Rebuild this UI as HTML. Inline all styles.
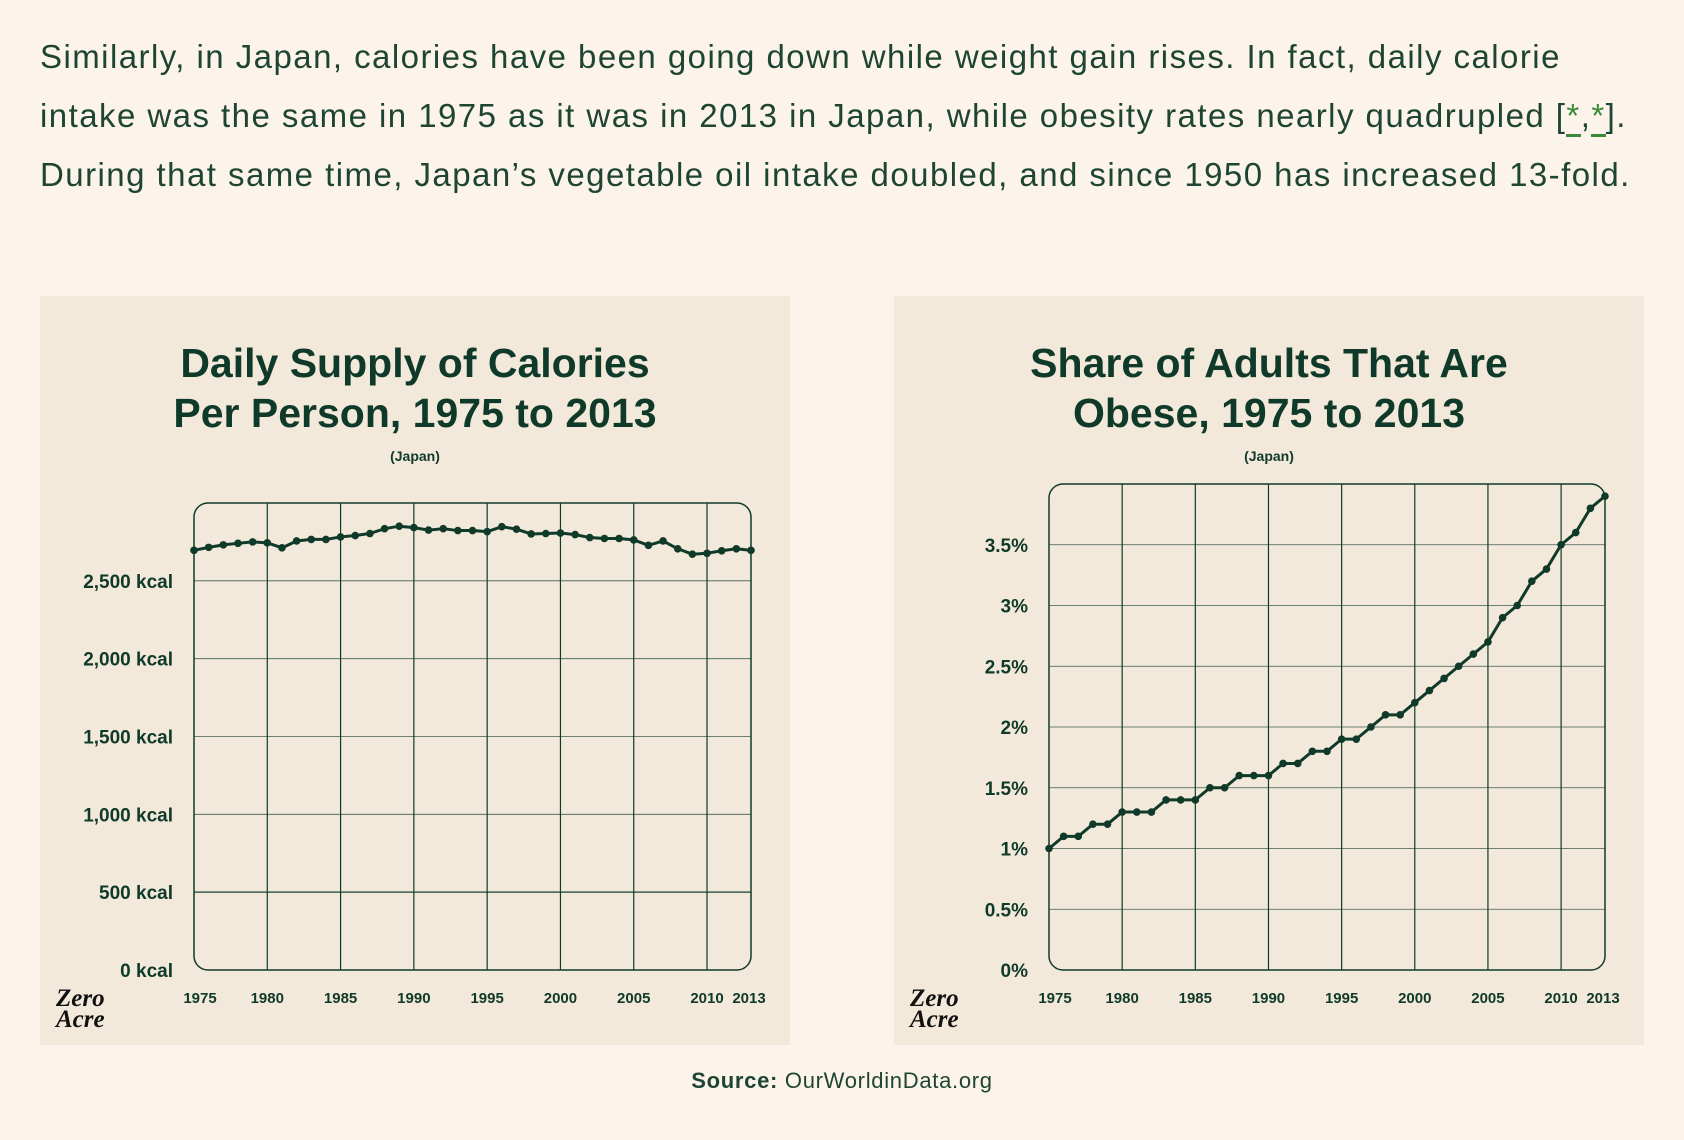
<!DOCTYPE html>
<html><head><meta charset="utf-8">
<style>
html,body{margin:0;padding:0;}
body{width:1684px;height:1140px;background:#fcf4ea;position:relative;overflow:hidden;font-family:"Liberation Sans",sans-serif;color:#1e4434;}
.para{position:absolute;left:40px;top:27px;font-size:33px;letter-spacing:1.45px;line-height:59px;white-space:nowrap;}
.para a{color:#3a8a3a;text-decoration:none;border-bottom:3px solid #3a8a3a;}
.panel{position:absolute;top:296px;width:750px;height:749px;background:#f3e9db;}
svg{position:absolute;left:0;top:0;}
.src{position:absolute;top:1068px;left:0;width:1684px;text-align:center;font-size:22px;color:#1e4434;letter-spacing:0.7px;}
</style></head>
<body>
<div class="para">
<div>Similarly, in Japan, calories have been going down while weight gain rises. In fact, daily calorie</div>
<div>intake was the same in 1975 as it was in 2013 in Japan, while obesity rates nearly quadrupled [<a href="#">*</a>,<a href="#">*</a>].</div>
<div>During that same time, Japan’s vegetable oil intake doubled, and since 1950 has increased 13-fold.</div>
</div>
<div class="panel" style="left:40px"><svg id="c1" width="750" height="749"></svg></div>
<div class="panel" style="left:894px"><svg id="c2" width="750" height="749"></svg></div>
<div class="src"><b>Source:</b> OurWorldinData.org</div>
<script>
const years = [];
for (let y = 1975; y <= 2013; y++) years.push(y);
const calories = [2696,2715,2731,2741,2750,2744,2712,2756,2766,2766,2782,2791,2804,2835,2851,2842,2826,2835,2823,2823,2816,2848,2832,2801,2804,2807,2797,2778,2772,2772,2763,2728,2756,2706,2671,2677,2693,2706,2696];
const obesity = [1.0,1.1,1.1,1.2,1.2,1.3,1.3,1.3,1.4,1.4,1.4,1.5,1.5,1.6,1.6,1.6,1.7,1.7,1.8,1.8,1.9,1.9,2.0,2.1,2.1,2.2,2.3,2.4,2.5,2.6,2.7,2.9,3.0,3.2,3.3,3.5,3.6,3.8,3.9];
const calTicks = [0,500,1000,1500,2000,2500];
const calTickLabels = ["0 kcal","500 kcal","1,000 kcal","1,500 kcal","2,000 kcal","2,500 kcal"];
const obTicks = [0,0.5,1,1.5,2,2.5,3,3.5];
const obTickLabels = ["0%","0.5%","1%","1.5%","2%","2.5%","3%","3.5%"];
const xTicks = [1975,1980,1985,1990,1995,2000,2005,2010,2013];
const xGrid = [1980,1985,1990,1995,2000,2005,2010];
const C = "#0f3a2a";
const NS = "http://www.w3.org/2000/svg";
function mk(parent, tag, attrs, text){
  const e = document.createElementNS(NS, tag);
  for (const k in attrs) e.setAttribute(k, attrs[k]);
  if (text !== undefined) e.textContent = text;
  parent.appendChild(e);
  return e;
}
function chart(id, t1, t2, vals, ymax, ticks, labels, box, prefix){
  const svg = document.getElementById(id);
  const [L,T,R,B] = box;
  const x = v => L + (v-1975)/(2013-1975)*(R-L);
  const y = v => B - v/ymax*(B-T);
  let e;
  e = mk(svg,'text',{x:375,y:81,'text-anchor':'middle','font-size':41,'font-weight':'bold',fill:C},t1);
  
  
  e = mk(svg,'text',{x:375,y:131,'text-anchor':'middle','font-size':41,'font-weight':'bold',fill:C},t2);
  
  
  e = mk(svg,'text',{x:375,y:165,'text-anchor':'middle','font-size':14,'font-weight':'bold',fill:C},'(Japan)');
  
  
  const g = mk(svg,'g',{});
  
  
  ticks.forEach((t,i)=>{
    if (t>0) mk(g,'line',{x1:L,x2:R,y1:y(t),y2:y(t),stroke:C,'stroke-width':t===500&&prefix==='calories'?1.5:0.8,opacity:0.8});
    const lb = mk(svg,'text',{x:L-21,y:y(t)+7,'text-anchor':'end','font-size':19,'font-weight':'bold',fill:C},labels[i]);
    
    
  });
  xGrid.forEach(v=>mk(g,'line',{x1:x(v),x2:x(v),y1:T,y2:B,stroke:C,'stroke-width':1.2}));
  xTicks.forEach(v=>{
    const lb = mk(svg,'text',{x:x(v)+(v===1975?6:(v===2013?-2:0)),y:B+33,'text-anchor':'middle','font-size':15,'font-weight':'bold',fill:C},String(v));
    
    
  });
  e = mk(svg,'rect',{x:L,y:T,width:R-L,height:B-T,rx:14,ry:14,fill:'none',stroke:C,'stroke-width':1.5});
  
  
  const pts = vals.map((v,i)=>x(years[i])+','+y(v)).join(' ');
  e = mk(svg,'polyline',{points:pts,fill:'none',stroke:C,'stroke-width':3,'stroke-linejoin':'round'});
  
  
  vals.forEach((v,i)=>{
    const d = mk(svg,'circle',{cx:x(years[i]),cy:y(v),r:3.8,fill:C});
    
    
  });
  const lg = mk(svg,'g',{});
  
  
  mk(lg,'text',{x:16,y:710,'font-size':25,'font-weight':'bold','font-style':'italic','font-family':'Liberation Serif, serif',fill:'#111'},'Zero');
  mk(lg,'text',{x:16,y:731,'font-size':25,'font-weight':'bold','font-style':'italic','font-family':'Liberation Serif, serif',fill:'#111'},'Acre');
}
chart('c1','Daily Supply of Calories','Per Person, 1975 to 2013',calories,3000,calTicks,calTickLabels,[154,207,711,674],'calories');
chart('c2','Share of Adults That Are','Obese, 1975 to 2013',obesity,4,obTicks,obTickLabels,[155,188,711,674],'obesity');
</script>
</body></html>
